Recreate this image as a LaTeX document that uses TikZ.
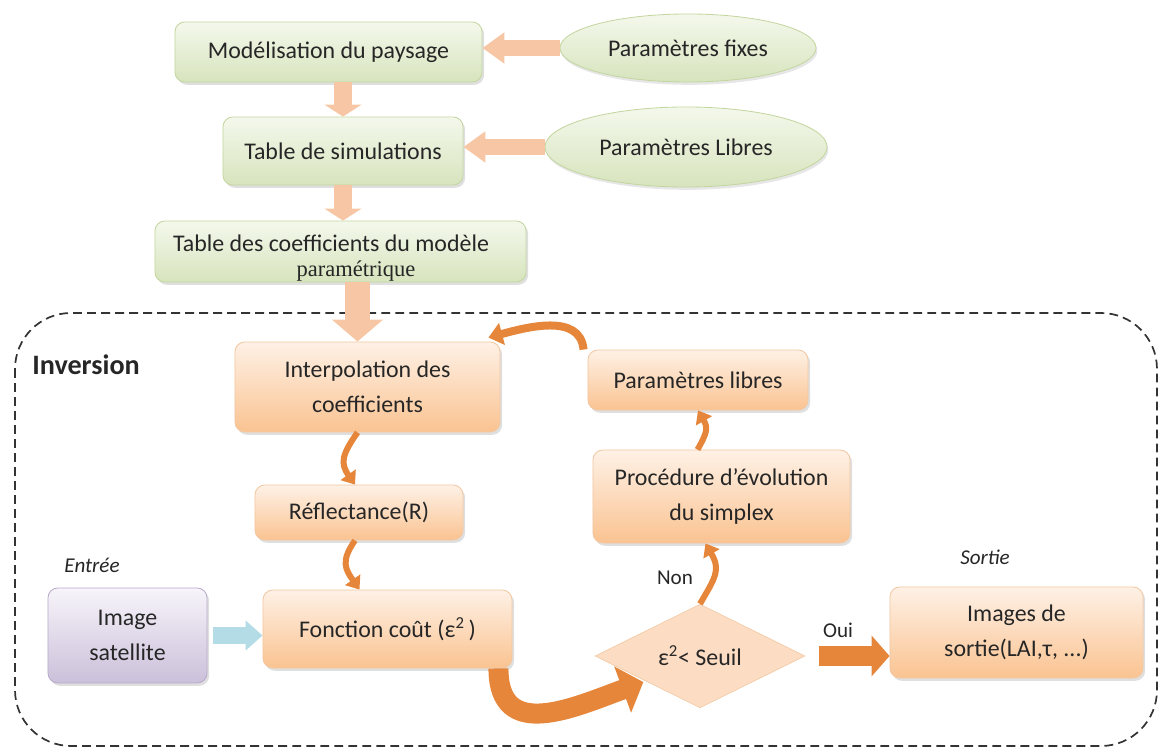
\documentclass[tikz,border=0pt]{standalone}
\usepackage{fontspec}
\setmainfont{Carlito}
\newfontfamily\paramserif{Liberation Serif}
\usetikzlibrary{shapes.geometric, arrows.meta, shadows}

\definecolor{greentop}{HTML}{F4F8EC}
\definecolor{greenbot}{HTML}{D7E4BD}
\definecolor{greenline}{HTML}{C4D6A0}
\definecolor{peachtop}{HTML}{FEF1E6}
\definecolor{peachbot}{HTML}{FAC391}
\definecolor{peachline}{HTML}{F2C8A2}
\definecolor{lilactop}{HTML}{F7F4FA}
\definecolor{lilacbot}{HTML}{CBC0DA}
\definecolor{lilacline}{HTML}{B9AACB}
\definecolor{diamfill}{HTML}{FCDCC2}
\definecolor{salmon}{HTML}{F7C7A5}
\definecolor{curveorange}{HTML}{E5863A}
\definecolor{skyblue}{HTML}{B4DCE6}
\definecolor{txtgray}{HTML}{262626}

\tikzset{
  boxbase/.style={rectangle, rounded corners=7pt, align=center, inner sep=2pt, line width=0.6pt,
    drop shadow={opacity=0.25, shadow xshift=1.5pt, shadow yshift=-2pt}},
  greenbox/.style={boxbase, draw=greenline, top color=greentop, bottom color=greenbot},
  orangebox/.style={boxbase, draw=peachline, top color=peachtop, bottom color=peachbot},
  lilacbox/.style={boxbase, draw=lilacline, top color=lilactop, bottom color=lilacbot},
  paramellipse/.style={ellipse, draw=greenline, line width=0.6pt, inner sep=0pt,
    top color=greentop, bottom color=greenbot,
    drop shadow={opacity=0.2, shadow xshift=1pt, shadow yshift=-2pt}},
  testdiamond/.style={diamond, fill=diamfill, draw=peachline, inner sep=0pt},
  blockarrow/.style n args={3}{draw=salmon, line width=#1, -{Triangle[width=#2, length=#3]}},
  curvearrow/.style={draw=curveorange, line width=0.15cm, -{Triangle[width=0.45cm, length=0.3cm]}},
  dashedframe/.style={draw=black!80, line width=1.2pt, dash pattern=on 0.22cm off 0.13cm, rounded corners=1.4cm},
  tag/.style={font=\fontsize{15}{18}\selectfont\itshape},
  answer/.style={font=\fontsize{15}{18}\selectfont}
}

\begin{document}
\begin{tikzpicture}[x=0.025cm, y=0.025cm,
  every node/.style={font=\fontsize{17}{25}\selectfont, text=txtgray}]
  \useasboundingbox (0,0) rectangle (1160,-747);

  % Inversion frame
  \draw[dashedframe] (15,-313) rectangle (1157,-746);
  \node[font=\fontsize{20}{24}\selectfont\bfseries] (invlab) at (86,-365) {Inversion};

  % model of the landscape
  \node[greenbox, minimum width=7.675cm, minimum height=1.5cm] (model) at (328.5,-52) {Modélisation du paysage};
  \node[paramellipse, minimum width=6.4cm, minimum height=1.7cm] (fixed) at (688,-48) {Paramètres fixes};
  \node[greenbox, minimum width=6cm, minimum height=1.7cm] (simtab) at (343,-151) {Table de simulations};
  \node[paramellipse, minimum width=7.05cm, minimum height=2cm] (freetop) at (686,-147) {Paramètres Libres};
  \node[greenbox, minimum width=9.275cm, minimum height=1.525cm] (coeftab) at (340.5,-251.5) {};
  \node[inner sep=0pt] (coefa) at (331,-243) {Table des coefficients du modèle};
  \node[inner sep=0pt, font=\paramserif\fontsize{16}{19}\selectfont] (coefb) at (356,-271) {paramétrique};

  % inversion loop
  \node[orangebox, minimum width=6.625cm, minimum height=2.25cm] (interp) at (367.5,-387) {Interpolation des\\coefficients};
  \node[orangebox, minimum width=5.2cm, minimum height=1.375cm] (refl) at (359,-512.5) {Réflectance(R)};
  \node[orangebox, minimum width=6.225cm, minimum height=1.95cm] (cost) at (387.5,-629) {Fonction coût (ε\textsuperscript{2}\,)};
  \node[orangebox, minimum width=5.5cm, minimum height=1.5cm] (freepar) at (698,-380) {Paramètres libres};
  \node[orangebox, minimum width=6.425cm, minimum height=2.325cm] (simplex) at (721.5,-496.5) {Procédure d’évolution\\du simplex};
  \node[testdiamond, minimum width=5.25cm, minimum height=2.5cm] (test) at (700,-656) {ε\textsuperscript{2}< Seuil};
  \node[orangebox, minimum width=6.325cm, minimum height=2.275cm] (output) at (1016.5,-632.5) {Images de\\sortie(LAI,τ, ...)};
  \node[lilacbox, minimum width=3.975cm, minimum height=2.375cm] (sat) at (127.5,-635.5) {Image\\satellite};

  % labels
  \node[tag] (inlab) at (92,-565) {Entrée};
  \node[tag] (outlab) at (985,-557) {Sortie};
  \node[answer] (nolab) at (675,-578) {Non};
  \node[answer] (yeslab) at (838,-630) {Oui};

  % block arrows
  \draw[blockarrow={0.4cm}{0.75cm}{0.55cm}] (fixed.west) -- (fixed.west -| model.east);
  \draw[blockarrow={0.4cm}{0.75cm}{0.55cm}] (freetop.west) -- (freetop.west -| simtab.east);
  \draw[blockarrow={0.45cm}{0.92cm}{0.3cm}] (simtab.north |- model.south) -- (simtab.north);
  \draw[blockarrow={0.45cm}{0.92cm}{0.3cm}] (simtab.south) -- (simtab.south |- coeftab.north);
  \coordinate (coefdrop) at ([xshift=-0.25cm]interp.north);
  \draw[blockarrow={0.62cm}{1.25cm}{0.55cm}] (coefdrop |- coeftab.south) -- (coefdrop);
  \draw[blockarrow={0.42cm}{0.72cm}{0.42cm}, draw=skyblue] ([xshift=0.15cm]sat.east) -- (sat.east -| cost.west);
  \draw[blockarrow={0.48cm}{1cm}{0.45cm}, draw=curveorange] ([xshift=0.35cm]test.east) -- (test.east -| output.west);

  % curved arrows
  \draw[curvearrow] ([xshift=-0.25cm]interp.south) to[out=235, in=125, looseness=1.3] ([xshift=-0.1cm]refl.north);
  \draw[curvearrow] ([xshift=-0.1cm]refl.south) to[out=235, in=125, looseness=1.3] ([xshift=-0.7cm]cost.north);
  \draw[curvearrow] ([xshift=-0.6cm]simplex.north) to[out=60, in=-60, looseness=1.3] (freepar.south);
  \draw[curvearrow] (test.north) to[out=60, in=-60, looseness=1.3] ([xshift=-0.4cm]simplex.south);
  \draw[curvearrow, line width=0.2cm, -{Triangle[width=0.55cm, length=0.35cm]}]
    ([xshift=-0.1cm]freepar.north west) to[out=95, in=15] ([xshift=-0.3cm, yshift=0.1cm]interp.north east);
  \draw[curvearrow, line width=0.5cm, -{Triangle[width=1.2cm, length=0.55cm]}]
    ([xshift=-0.35cm]cost.south east) to[out=-90, in=200, looseness=1.3] ([xshift=-0.1cm]test.south west);
\end{tikzpicture}
\end{document}
